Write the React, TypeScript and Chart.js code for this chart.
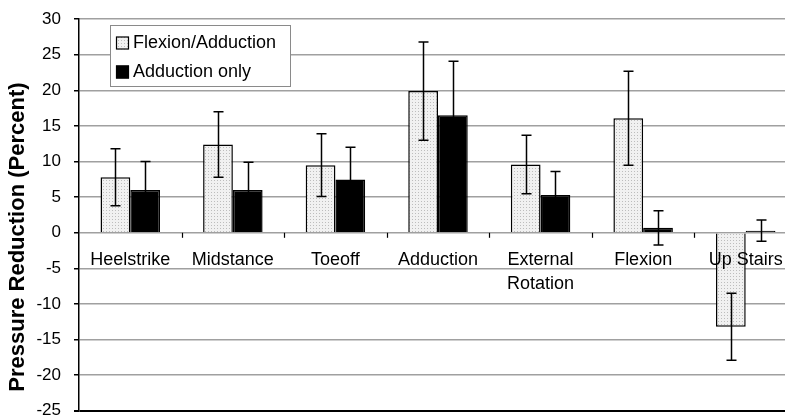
import React, { useEffect, useRef } from "react";
import { Chart, registerables } from "chart.js";
Chart.register(...registerables);

const categories: (string | string[])[] = [
  "Heelstrike",
  "Midstance",
  "Toeoff",
  "Adduction",
  ["External", "Rotation"],
  "Flexion",
  "Up Stairs",
];
const seriesNames = ["Flexion/Adduction", "Adduction only"];
const flexAdd = [7.8, 12.4, 9.5, 19.9, 9.6, 16.1, -13.2];
const flexAddErr = [4.0, 4.6, 4.4, 6.9, 4.1, 6.6, 4.7];
const addOnly = [6.0, 6.0, 7.5, 16.5, 5.3, 0.7, 0.3];
const addOnlyErr = [4.0, 3.9, 4.5, 7.6, 3.3, 2.4, 1.5];
const yTicks = [-25, -20, -15, -10, -5, 0, 5, 10, 15, 20, 25, 30];
const yTitle = "Pressure Reduction (Percent)";

const FONT = "Arial, 'Liberation Sans', sans-serif";
const CW = 797;
const CH = 438;
const SHIFT = 4;

export default function App() {
  const ref = useRef<HTMLCanvasElement>(null);
  useEffect(() => {
    document.body.style.margin = "0";
    const canvas = ref.current!;
    const pc = document.createElement("canvas");
    pc.width = 3;
    pc.height = 3;
    const pctx = pc.getContext("2d")!;
    pctx.fillStyle = "#f1f1f1";
    pctx.fillRect(0, 0, 3, 3);
    pctx.fillStyle = "#bdbdbd";
    pctx.fillRect(1, 1, 1, 1);
    const pattern = canvas.getContext("2d")!.createPattern(pc, "repeat")!;

    const errs = [flexAddErr, addOnlyErr];

    const errorBars = {
      id: "errorBars",
      afterDatasetsDraw(chart: any) {
        const { ctx } = chart;
        const y = chart.scales.y;
        ctx.save();
        ctx.strokeStyle = "#000";
        ctx.lineWidth = 1.5;
        chart.data.datasets.forEach((ds: any, di: number) => {
          const meta = chart.getDatasetMeta(di);
          meta.data.forEach((bar: any, i: number) => {
            const v = ds.data[i] as number;
            const e = errs[di][i];
            const x = Math.round(bar.x) + 0.5;
            const yt = y.getPixelForValue(v + e);
            const yb = y.getPixelForValue(v - e);
            ctx.beginPath();
            ctx.moveTo(x, yt);
            ctx.lineTo(x, yb);
            ctx.moveTo(x - 5, yt);
            ctx.lineTo(x + 5, yt);
            ctx.moveTo(x - 5, yb);
            ctx.lineTo(x + 5, yb);
            ctx.stroke();
          });
        });
        ctx.restore();
      },
    };

    const zeroAxis = {
      id: "zeroAxis",
      afterDatasetsDraw(chart: any) {
        const { ctx } = chart;
        const x = chart.scales.x;
        const y = chart.scales.y;
        const y0 = y.getPixelForValue(0);
        ctx.save();
        ctx.strokeStyle = "#000";
        ctx.lineWidth = 1.2;
        const n = categories.length;
        const w = (chart.chartArea.right - chart.chartArea.left) / n;
        for (let k = 1; k <= n; k++) {
          const bx = Math.round(chart.chartArea.left + k * w) + 0.5;
          ctx.beginPath();
          ctx.moveTo(bx, y0);
          ctx.lineTo(bx, y0 + 5);
          ctx.stroke();
        }
        ctx.fillStyle = "#000";
        ctx.font = `18px ${FONT}`;
        ctx.textAlign = "center";
        ctx.textBaseline = "middle";
        categories.forEach((c, i) => {
          const cx = x.getPixelForValue(i);
          const lines = Array.isArray(c) ? c : [c];
          lines.forEach((ln, j) => {
            ctx.fillText(ln, cx, y0 + 27 + j * 24);
          });
        });
        ctx.restore();
      },
    };

    const titlePlugin = {
      id: "yTitleDraw",
      afterDraw(chart: any) {
        const { ctx } = chart;
        const y = chart.scales.y;
        ctx.save();
        ctx.translate(18, y.getPixelForValue(-0.6));
        ctx.rotate(-Math.PI / 2);
        ctx.font = `bold 22px ${FONT}`;
        ctx.fillStyle = "#000";
        ctx.textAlign = "center";
        ctx.textBaseline = "middle";
        ctx.fillText(yTitle, 0, 0);
        ctx.restore();
      },
    };

    const legendBox = {
      id: "legendBox",
      afterDraw(chart: any) {
        const { ctx } = chart;
        ctx.save();
        ctx.translate(0, SHIFT);
        ctx.fillStyle = "#fff";
        ctx.fillRect(110, 25, 180, 61);
        ctx.strokeStyle = "#8a8a8a";
        ctx.lineWidth = 1;
        ctx.strokeRect(110.5, 25.5, 180, 61);
        const fills = [pattern, "#000"];
        ctx.font = `18px ${FONT}`;
        ctx.textBaseline = "middle";
        ctx.textAlign = "left";
        seriesNames.forEach((name, i) => {
          const cy = 43 + i * 29;
          ctx.fillStyle = fills[i] as any;
          ctx.fillRect(116, cy - 6.5, 13, 13);
          ctx.strokeStyle = "#000";
          ctx.lineWidth = 1.2;
          ctx.strokeRect(116.5, cy - 6, 12, 12);
          ctx.fillStyle = "#000";
          ctx.fillText(name, 133, cy);
        });
        ctx.restore();
      },
    };

    const chart = new Chart(canvas, {
      type: "bar",
      data: {
        labels: categories.map((c) => (Array.isArray(c) ? c.join(" ") : c)),
        datasets: [
          {
            label: seriesNames[0],
            data: flexAdd,
            backgroundColor: pattern as any,
            borderColor: "#000",
            borderWidth: 1.5,
            categoryPercentage: 0.58,
            barPercentage: 1,
          },
          {
            label: seriesNames[1],
            data: addOnly,
            backgroundColor: "#000",
            borderColor: "#000",
            borderWidth: 1.5,
            categoryPercentage: 0.58,
            barPercentage: 1,
          },
        ],
      },
      options: {
        responsive: true,
        maintainAspectRatio: false,
        animation: false,
        devicePixelRatio: 1,
        layout: { padding: { top: 14, bottom: 7, left: 0, right: 0 } },
        plugins: {
          legend: { display: false },
          tooltip: { enabled: false },
          title: { display: false },
        },
        scales: {
          x: {
            display: false,
            offset: true,
          },
          y: {
            min: -25,
            max: 30,
            afterBuildTicks: (axis: any) => {
              axis.ticks = yTicks.map((v) => ({ value: v }));
            },
            afterFit: (axis: any) => {
              axis.width = 79;
            },
            ticks: {
              color: "#000",
              padding: 13,
              font: { family: FONT, size: 17 },
            },
            grid: {
              color: (c: any) => (c.tick && c.tick.value === -25 ? "#000" : "#a0a0a0"),
              lineWidth: (c: any) => (c.tick && c.tick.value === -25 ? 2 : 1.5),
              tickColor: "#000",
              tickLength: 5,
              drawTicks: true,
            },
            border: { display: true, color: "#000", width: 1.5 },
            title: { display: false },
          },
        },
      },
      plugins: [errorBars, zeroAxis, legendBox, titlePlugin],
    });
    return () => chart.destroy();
  }, []);
  return (
    <div style={{ width: 785, height: 417, overflow: "hidden", position: "relative", background: "#fff" }}>
      <div style={{ position: "absolute", left: 0, top: -SHIFT, width: CW, height: CH }}>
        <canvas ref={ref} />
      </div>
    </div>
  );
}
